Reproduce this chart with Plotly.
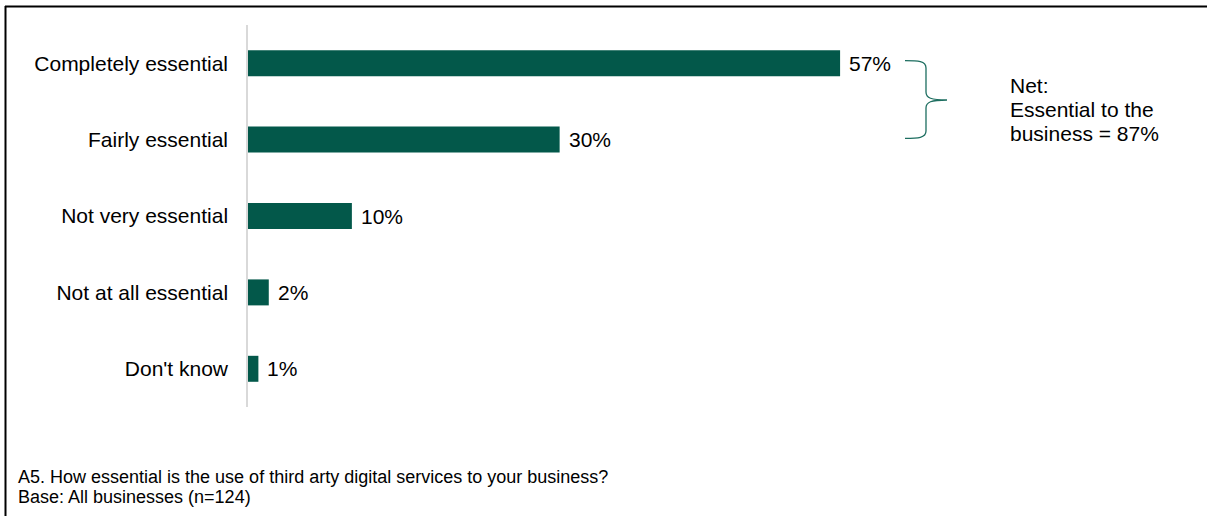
import plotly.graph_objects as go

# Survey responses: how essential third-party digital services are
categories = ["Completely essential", "Fairly essential", "Not very essential",
              "Not at all essential", "Don't know"]
values = [57, 30, 10, 2, 1]

question = "A5. How essential is the use of third arty digital services to your business?"
base_note = "Base: All businesses (n=124)"
net_value = values[0] + values[1]
net_lines = ["Net:", "Essential to the", f"business = {net_value}%"]

BAR_COLOR = "#03584A"
FONT = "Liberation Sans, Arial, sans-serif"

W, H = 1207, 516
M_L, M_R, M_T, M_B = 248, 128, 25, 109
PW, PH = W - M_L - M_R, H - M_T - M_B


def px(x):
    """Pixel x -> paper x."""
    return (x - M_L) / PW


def py(y):
    """Pixel y -> paper y."""
    return 1 - (y - M_T) / PH


fig = go.Figure(go.Bar(
    x=values, y=categories, orientation="h",
    marker=dict(color=BAR_COLOR, line=dict(width=0)),
    width=0.34, hoverinfo="skip",
))

annotations = []
for cat, v in zip(categories, values):
    annotations.append(dict(
        x=v, y=cat, xref="x", yref="y", text=f"{v}%", showarrow=False,
        xanchor="left", yanchor="middle", xshift=7,
        font=dict(family=FONT, size=21, color="#000000"),
    ))

# Net label beside the brace
for i, line in enumerate(net_lines):
    annotations.append(dict(
        x=px(1008), y=py(85.5 + i * 24), xref="paper", yref="paper",
        text=line, showarrow=False, xanchor="left", yanchor="middle",
        font=dict(family=FONT, size=21, color="#000000"),
    ))

# Footnotes
for i, line in enumerate([question, base_note]):
    annotations.append(dict(
        x=px(16), y=py(477 + i * 19.5), xref="paper", yref="paper",
        text=line, showarrow=False, xanchor="left", yanchor="middle",
        font=dict(family=FONT, size=18, color="#000000"),
    ))


def brace_path():
    pts = [
        ("M", [(905, 60.7)]),
        ("C", [(918, 60.7), (926, 61), (926, 68)]),
        ("L", [(926, 92)]),
        ("C", [(926, 98), (931, 100), (947, 100)]),
        ("M", [(947, 100)]),
        ("C", [(931, 100), (926, 102), (926, 108)]),
        ("L", [(926, 131)]),
        ("C", [(926, 138), (918, 138.3), (905, 138.3)]),
    ]
    out = []
    for cmd, ps in pts:
        out.append(cmd + " " + " ".join(f"{px(x):.5f},{py(y):.5f}" for x, y in ps))
    return " ".join(out)


shapes = [
    dict(type="path", xref="paper", yref="paper", path=brace_path(),
         line=dict(color="#1d6e60", width=1.3)),
    # frame lines along the top and left edges
    dict(type="line", xref="paper", yref="paper",
         x0=px(5), x1=px(1210), y0=py(6.5), y1=py(6.5),
         line=dict(color="#000000", width=2)),
    dict(type="line", xref="paper", yref="paper",
         x0=px(5.5), x1=px(5.5), y0=py(6), y1=py(520),
         line=dict(color="#000000", width=2)),
]

fig.update_layout(
    width=W, height=H,
    margin=dict(l=M_L, r=M_R, t=M_T, b=M_B),
    paper_bgcolor="white", plot_bgcolor="white",
    showlegend=False,
    annotations=annotations, shapes=shapes,
    xaxis=dict(range=[0, 80], visible=False, fixedrange=True),
    yaxis=dict(
        categoryorder="array", categoryarray=categories[::-1],
        showline=True, linecolor="#d9d9d9", linewidth=1.5,
        showgrid=False, zeroline=False, ticks="",
        ticklabelstandoff=14,
        tickfont=dict(family=FONT, size=21, color="#000000"),
        fixedrange=True,
    ),
    bargap=0.66,
)

fig.write_html("out.html")
